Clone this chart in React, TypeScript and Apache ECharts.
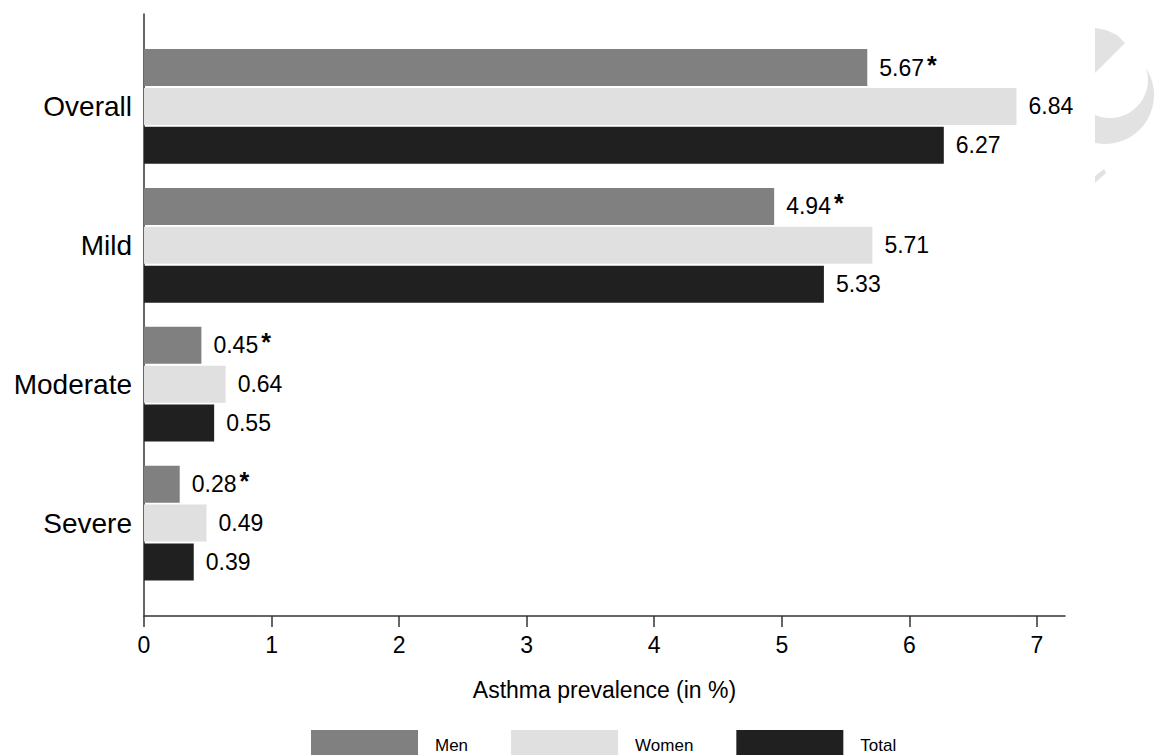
import React, { useEffect, useRef } from "react";
import * as echarts from "echarts";

const categories = ["Overall", "Mild", "Moderate", "Severe"];
const seriesNames = ["Men", "Women", "Total"];
const menValues = [5.67, 4.94, 0.45, 0.28];
const womenValues = [6.84, 5.71, 0.64, 0.49];
const totalValues = [6.27, 5.33, 0.55, 0.39];
const menSignificant = [true, true, true, true];
const xTickValues = [0, 1, 2, 3, 4, 5, 6, 7];
const xAxisTitle = "Asthma prevalence (in %)";

const colors = ["#808080", "#e0e0e0", "#202020"];
const FONT = "'Liberation Sans', Arial, Helvetica, sans-serif";

export default function App() {
  const ref = useRef<HTMLDivElement>(null);

  useEffect(() => {
    document.body.style.margin = "0";
    const chart = echarts.init(ref.current!, null, { renderer: "svg" });

    const valueLabel = (sig?: boolean[]) => ({
      show: true,
      position: "right",
      distance: 12,
      color: "#000",
      fontFamily: FONT,
      fontSize: 23,
      formatter: (p: any) => {
        const v = Number(p.value).toFixed(2);
        return sig && sig[p.dataIndex] ? `{v|${v}}{s|*}` : `{v|${v}}`;
      },
      rich: {
        v: { fontFamily: FONT, fontSize: 23, color: "#000" },
        s: { fontFamily: FONT, fontSize: 25, fontWeight: "bold", color: "#000", padding: [0, 0, 6, 3] },
      },
    });

    const seriesData = [menValues, womenValues, totalValues];
    const sigs = [menSignificant, undefined, undefined];

    const option: any = {
      animation: false,
      backgroundColor: "#ffffff",
      textStyle: { fontFamily: FONT },
      grid: [
        { left: 144, right: 90, top: 14, height: 602, containLabel: false },
        { left: 144, right: 90, top: 37, height: 555.5, containLabel: false },
      ],
      xAxis: [
        {
          gridIndex: 0,
          type: "value",
          min: 0,
          max: 7.22,
          axisLine: { show: true, onZero: false, lineStyle: { color: "#333", width: 1.5 } },
          axisTick: { show: true, length: 11, customValues: xTickValues, lineStyle: { color: "#333", width: 1.5 } },
          axisLabel: {
            customValues: xTickValues,
            margin: 17,
            fontFamily: FONT,
            fontSize: 23,
            color: "#000",
          },
          splitLine: { show: false },
          name: xAxisTitle,
          nameLocation: "middle",
          nameGap: 62,
          nameTextStyle: { fontFamily: FONT, fontSize: 23, color: "#000" },
        },
        {
          gridIndex: 1,
          type: "value",
          min: 0,
          max: 7.22,
          show: false,
        },
      ],
      yAxis: [
        {
          gridIndex: 0,
          type: "value",
          axisLine: { show: true, lineStyle: { color: "#333", width: 1.5 } },
          axisTick: { show: false },
          axisLabel: { show: false },
          splitLine: { show: false },
        },
        {
          gridIndex: 1,
          type: "category",
          inverse: true,
          data: categories,
          axisLine: { show: false },
          axisTick: { show: false },
          axisLabel: { margin: 12, fontFamily: FONT, fontSize: 28, color: "#000" },
        },
      ],
      legend: {
        left: 311,
        top: 730,
        padding: 0,
        icon: "rect",
        itemWidth: 107,
        itemHeight: 30,
        itemGap: 43,
        data: seriesNames,
        textStyle: { fontFamily: FONT, fontSize: 17, color: "#000", padding: [0, 0, 0, 12] },
      },
      series: seriesNames.map((name, i) => ({
        name,
        type: "bar",
        xAxisIndex: 1,
        yAxisIndex: 1,
        data: seriesData[i],
        barWidth: 37,
        barGap: "5%",
        itemStyle: { color: colors[i] },
        label: valueLabel(sigs[i]),
      })),
      graphic: [
        { type: "circle", z: 0, shape: { cx: 1105, cy: 95, r: 49 }, style: { fill: "#e2e2e2" } },
        { type: "circle", z: 0, shape: { cx: 1110, cy: 80, r: 38 }, style: { fill: "#ffffff" } },
        { type: "rect", z: 0, shape: { x: 1050, y: 40, width: 45, height: 110 }, style: { fill: "#ffffff" } },
        {
          type: "polygon",
          z: 0,
          shape: { points: [[1095, 28], [1106, 30], [1117, 35], [1125, 43], [1095, 73]] },
          style: { fill: "#e2e2e2" },
        },
        {
          type: "polygon",
          z: 0,
          shape: { points: [[1095, 176], [1104, 169], [1106, 173], [1095, 183]] },
          style: { fill: "#e2e2e2" },
        },
      ],
    };

    chart.setOption(option);
    return () => chart.dispose();
  }, []);

  return <div ref={ref} style={{ width: 1155, height: 755 }} />;
}
